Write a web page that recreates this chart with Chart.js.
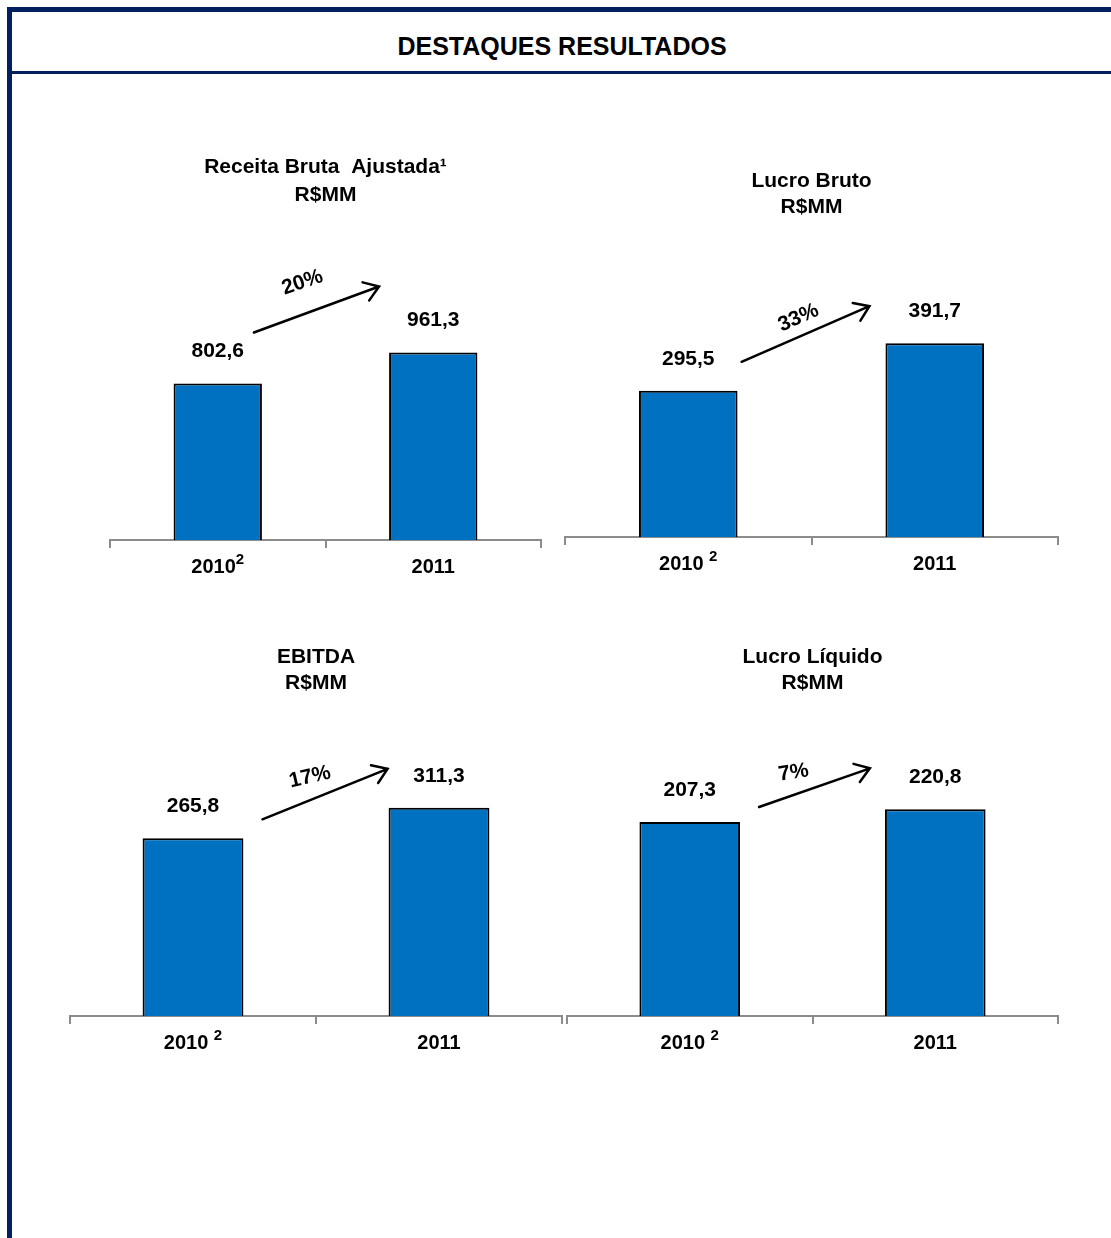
<!DOCTYPE html>
<html>
<head>
<meta charset="utf-8">
<script src="https://cdn.jsdelivr.net/npm/chart.js@4.4.1/dist/chart.umd.min.js"></script>
<style>
  html, body { margin: 0; padding: 0; background: #fff; overflow: hidden; }
  body { width: 1111px; height: 1238px; position: relative; font-family: "Liberation Sans", Arial, sans-serif; }
  .quadro { position: absolute; left: 7px; top: 7px; width: 1100px; height: 1300px; border: 5px solid #002060; border-width: 5px 5px 5px 5px; }
  .cabecalho { position: absolute; left: 0; top: 0; width: 100%; height: 59px; border-bottom: 3px solid #002060;
               text-align: center; line-height: 68px; font-weight: bold; font-size: 25px; color: #000; }
  .graf { position: absolute; }
</style>
</head>
<body>
<div class="quadro"><div class="cabecalho">DESTAQUES RESULTADOS</div></div>

<div class="graf" style="left:100px; top:140px; width:450px; height:450px;"><canvas id="g1"></canvas></div>
<div class="graf" style="left:555px; top:160px; width:513px; height:427px;"><canvas id="g2"></canvas></div>
<div class="graf" style="left:60px; top:630px; width:512px; height:436px;"><canvas id="g3"></canvas></div>
<div class="graf" style="left:557px; top:630px; width:511px; height:436px;"><canvas id="g4"></canvas></div>

<script>
// dados (R$MM)
var anosReceita = ['2010²', '2011'];
var anos = ['2010 ²', '2011'];
var receitaBruta = [802.6, 961.3];
var lucroBruto = [295.5, 391.7];
var ebitda = [265.8, 311.3];
var lucroLiquido = [207.3, 220.8];
var crescimento = ['20%', '33%', '17%', '7%'];

var fonte = '"Liberation Sans", Arial, sans-serif';
Chart.defaults.font.family = fonte;
Chart.defaults.color = '#000';

function fmt(v) {
  return v.toFixed(1).replace('.', ',');
}

// anos do eixo x, com o "2" sobrescrito maior que o glifo unicode
function desenharAno(ctx, txt, x, y) {
  var i = txt.indexOf('²');
  ctx.textBaseline = 'alphabetic';
  ctx.font = 'bold 20px ' + fonte;
  if (i < 0) {
    ctx.textAlign = 'center';
    ctx.fillText(txt, x, y);
    return;
  }
  var base = txt.slice(0, i);
  var wBase = ctx.measureText(base).width;
  ctx.font = 'bold 15px ' + fonte;
  var wSup = ctx.measureText('2').width;
  var x0 = x - (wBase + wSup) / 2;
  ctx.textAlign = 'left';
  ctx.font = 'bold 20px ' + fonte;
  ctx.fillText(base, x0, y);
  ctx.font = 'bold 15px ' + fonte;
  ctx.fillText('2', x0 + wBase, y - 9);
}

// rotulos em cima das barras + seta de crescimento
var setaPlugin = {
  id: 'seta',
  afterDraw: function(chart, args, s) {
    var ctx = chart.ctx;
    var bars = chart.getDatasetMeta(0).data;
    var valores = chart.data.datasets[0].data;
    var eixo = chart.scales.x;
    ctx.save();
    ctx.fillStyle = '#000';

    chart.data.labels.forEach(function(l, i) {
      desenharAno(ctx, l, eixo.getPixelForTick(i), eixo.top + 33);
    });

    ctx.font = 'bold 21px ' + fonte;
    ctx.textAlign = 'center';
    ctx.textBaseline = 'middle';
    bars.forEach(function(b, i) {
      ctx.fillText(fmt(valores[i]), b.x, b.y - 32);
    });

    var b0 = bars[0], b1 = bars[1];
    var x0 = b0.x + b0.width / 2 + s.ini[0], y0 = b0.y + s.ini[1];
    var x1 = b1.x - b1.width / 2 + s.fim[0], y1 = b1.y + s.fim[1];
    var ang = Math.atan2(y1 - y0, x1 - x0);
    ctx.strokeStyle = '#000';
    ctx.lineWidth = 2.5;
    ctx.lineCap = 'round';
    ctx.beginPath();
    ctx.moveTo(x0, y0);
    ctx.lineTo(x1, y1);
    ctx.moveTo(x1 - 17 * Math.cos(ang - 0.6), y1 - 17 * Math.sin(ang - 0.6));
    ctx.lineTo(x1, y1);
    ctx.lineTo(x1 - 17 * Math.cos(ang + 0.6), y1 - 17 * Math.sin(ang + 0.6));
    ctx.stroke();

    // percentual
    ctx.translate((x0 + x1) / 2 + s.txt[0], (y0 + y1) / 2 + s.txt[1]);
    ctx.rotate(s.rot * Math.PI / 180);
    ctx.fillText(s.texto, 0, 0);
    ctx.restore();
  }
};

function criarGrafico(id, titulo, labels, valores, o) {
  var ctx = document.getElementById(id).getContext('2d');
  return new Chart(ctx, {
    type: 'bar',
    data: {
      labels: labels,
      datasets: [{
        data: valores,
        backgroundColor: '#0070c0',
        borderColor: '#000',
        borderWidth: 2,
        borderSkipped: 'bottom',
        categoryPercentage: 1,
        barPercentage: o.barra
      }]
    },
    plugins: [setaPlugin],
    options: {
      responsive: true,
      maintainAspectRatio: false,
      animation: false,
      events: [],
      layout: { padding: { left: 10, right: o.dir, top: 0, bottom: 0 } },
      plugins: {
        legend: { display: false },
        tooltip: { enabled: false },
        title: {
          display: true,
          text: titulo,
          color: '#000',
          font: { size: 21, weight: 'bold', lineHeight: o.lh },
          padding: { top: o.pt, bottom: o.pb }
        },
        seta: o.seta
      },
      scales: {
        x: {
          afterFit: function(scale) { scale.height = 50; },
          grid: { display: true, drawOnChartArea: false, drawTicks: true, tickLength: 8, color: '#8c8c8c', lineWidth: 2, offset: true },
          border: { display: true, color: '#8c8c8c', width: 2 },
          // os anos sao desenhados no plugin
          ticks: { color: 'rgba(0,0,0,0)', padding: 4, font: { size: 20, weight: 'bold' } }
        },
        y: { display: false, min: 0, max: o.max }
      }
    }
  });
}

criarGrafico('g1', ['Receita Bruta  Ajustada¹', 'R$MM'], anosReceita, receitaBruta,
  { max: 1200, barra: 0.41, dir: 9, lh: '28px', pt: 13, pb: 97,
    seta: { ini: [-8, -51], fim: [-10, -66], txt: [-14, -27], rot: -19, texto: crescimento[0] } });

criarGrafico('g2', ['Lucro Bruto', 'R$MM'], anos, lucroBruto,
  { max: 475, barra: 0.40, dir: 10, lh: '26px', pt: 8, pb: 82,
    seta: { ini: [4, -29], fim: [-16, -37], txt: [-7, -16], rot: -24, texto: crescimento[1] } });

criarGrafico('g3', ['EBITDA', 'R$MM'], anos, ebitda,
  { max: 350, barra: 0.41, dir: 10, lh: '26px', pt: 14, pb: 86,
    seta: { ini: [19, -19], fim: [-1, -39], txt: [-15, -17], rot: -13, texto: crescimento[2] } });

criarGrafico('g4', ['Lucro Líquido', 'R$MM'], anos, lucroLiquido,
  { max: 250, barra: 0.41, dir: 10, lh: '26px', pt: 14, pb: 86,
    seta: { ini: [19, -15], fim: [-15, -41], txt: [-21, -15], rot: -9, texto: crescimento[3] } });
</script>
</body>
</html>
